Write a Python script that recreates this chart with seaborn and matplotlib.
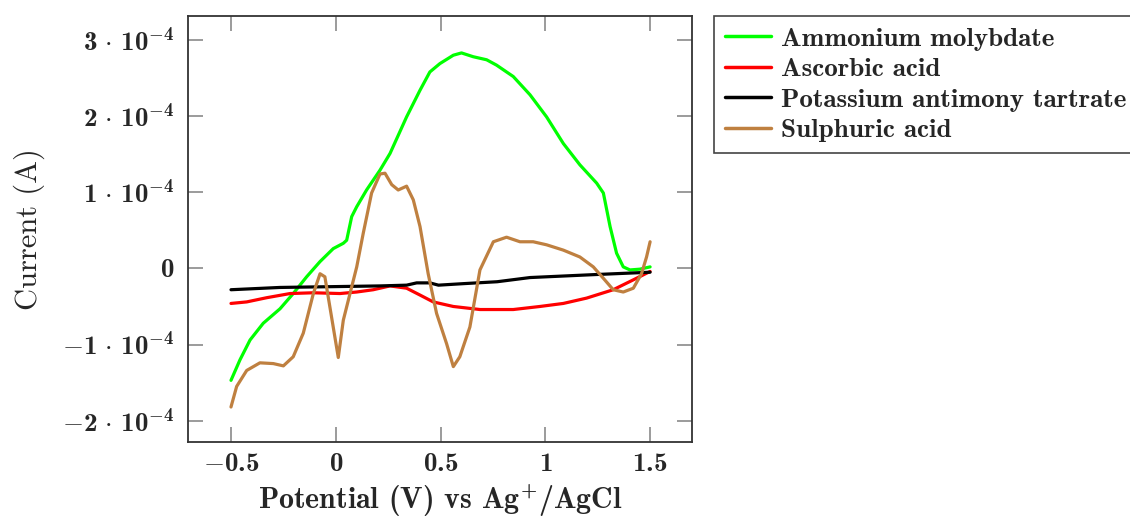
import numpy as np
import pandas as pd
import matplotlib
matplotlib.use("Agg")
import matplotlib.pyplot as plt
import seaborn as sns
from matplotlib.lines import Line2D

# ---- data (potential in V, current in 1e-4 A) ----
mo_v = [-0.5, -0.457, -0.409, -0.346, -0.266, -0.203, -0.139, -0.075, -0.012, 0.036, 0.052,
        0.076, 0.10, 0.147, 0.211, 0.259, 0.338, 0.402, 0.449, 0.497, 0.561, 0.60, 0.656,
        0.72, 0.767, 0.847, 0.927, 1.006, 1.086, 1.165, 1.245, 1.277, 1.309, 1.34, 1.372,
        1.404, 1.451, 1.5]
mo_i = [-1.47, -1.20, -0.94, -0.72, -0.53, -0.33, -0.11, 0.09, 0.26, 0.33, 0.37,
        0.68, 0.81, 1.03, 1.29, 1.51, 1.99, 2.34, 2.58, 2.69, 2.80, 2.83, 2.78,
        2.74, 2.67, 2.52, 2.28, 1.99, 1.64, 1.36, 1.12, 0.99, 0.55, 0.20, 0.02,
        -0.02, -0.01, 0.02]

asc_v = [-0.5, -0.425, -0.33, -0.218, -0.107, 0.02, 0.10, 0.179, 0.259, 0.338, 0.402,
         0.465, 0.561, 0.688, 0.847, 0.974, 1.086, 1.197, 1.324, 1.42, 1.5]
asc_i = [-0.46, -0.44, -0.385, -0.33, -0.32, -0.33, -0.31, -0.28, -0.23, -0.26, -0.35,
         -0.44, -0.50, -0.54, -0.54, -0.50, -0.46, -0.39, -0.28, -0.15, -0.04]

pat_v = [-0.5, -0.266, -0.028, 0.211, 0.338, 0.386, 0.449, 0.49, 0.61, 0.77, 0.927,
         1.086, 1.245, 1.5]
pat_i = [-0.28, -0.25, -0.24, -0.23, -0.22, -0.19, -0.19, -0.22, -0.20, -0.175, -0.12,
         -0.10, -0.08, -0.05]

sul_v = [-0.5, -0.473, -0.425, -0.362, -0.298, -0.25, -0.203, -0.155, -0.107, -0.075,
         -0.052, -0.02, 0.012, 0.036, 0.068, 0.10, 0.131, 0.171, 0.211, 0.235, 0.267,
         0.298, 0.338, 0.37, 0.402, 0.441, 0.481, 0.529, 0.561, 0.592, 0.64, 0.688,
         0.752, 0.815, 0.879, 0.942, 1.006, 1.086, 1.165, 1.229, 1.277, 1.324, 1.372,
         1.42, 1.459, 1.483, 1.5]
sul_i = [-1.82, -1.55, -1.34, -1.24, -1.25, -1.28, -1.16, -0.85, -0.33, -0.07,
         -0.11, -0.64, -1.17, -0.68, -0.33, 0.02, 0.46, 0.99, 1.24, 1.25, 1.10,
         1.03, 1.08, 0.90, 0.55, -0.07, -0.59, -0.99, -1.29, -1.16, -0.77, -0.02,
         0.35, 0.41, 0.35, 0.35, 0.31, 0.24, 0.15, 0.02, -0.13, -0.28, -0.31,
         -0.26, -0.07, 0.15, 0.35]

series_names = ["Ammonium molybdate", "Ascorbic acid", "Potassium antimony tartrate", "Sulphuric acid"]
series_colors = ["#00ff00", "#ff0000", "#000000", "#bf8040"]

x_ticks = [-0.5, 0, 0.5, 1, 1.5]
x_tick_labels = [r"$-0.5$", r"$0$", r"$0.5$", r"$1$", r"$1.5$"]
y_ticks = [-2e-4, -1e-4, 0, 1e-4, 2e-4, 3e-4]
y_tick_labels = [r"$-2\,\cdot\,10^{-4}$", r"$-1\,\cdot\,10^{-4}$", r"$0$",
                 r"$1\,\cdot\,10^{-4}$", r"$2\,\cdot\,10^{-4}$", r"$3\,\cdot\,10^{-4}$"]

frames = []
for name, v, i in zip(series_names, [mo_v, asc_v, pat_v, sul_v], [mo_i, asc_i, pat_i, sul_i]):
    frames.append(pd.DataFrame({"Potential": v, "Current": np.array(i) * 1e-4,
                                "Series": name}))
df = pd.concat(frames, ignore_index=True)

sns.set_theme(style="white")
plt.rcParams["font.family"] = ["cmb10", "DejaVu Serif"]
plt.rcParams["mathtext.fontset"] = "custom"
plt.rcParams["mathtext.rm"] = "cmb10"
plt.rcParams["mathtext.bf"] = "cmb10"
plt.rcParams["mathtext.it"] = "cmb10"
plt.rcParams["mathtext.default"] = "rm"
plt.rcParams["mathtext.fallback"] = "cm"
plt.rcParams["axes.unicode_minus"] = True

FS = 19.5
fig = plt.figure(figsize=(11.3, 5.21), dpi=100)
ax = fig.add_axes([0.1664, 0.1516, 0.4460, 0.8177])

sns.lineplot(data=df, x="Potential", y="Current", hue="Series", hue_order=series_names,
             palette=dict(zip(series_names, series_colors)), sort=False, estimator=None,
             linewidth=2.3, ax=ax, legend=False)

ax.set_xlim(-0.705, 1.7)
ax.set_ylim(-2.28e-4, 3.315e-4)
ax.set_xticks(x_ticks)
ax.set_xticklabels(x_tick_labels, fontsize=FS)
ax.set_yticks(y_ticks)
ax.set_yticklabels(y_tick_labels, fontsize=FS)
ax.tick_params(axis="both", direction="in", length=11, width=1.2, color="#8a8a8a",
               top=True, right=True, bottom=True, left=True)
ax.tick_params(axis="x", pad=8)
ax.tick_params(axis="y", pad=10)
for s in ax.spines.values():
    s.set_color("#333333")
    s.set_linewidth(1.3)

ax.set_xlabel(r"Potential (V) vs Ag$^{+}$/AgCl", fontsize=21.5, labelpad=5)
ax.set_ylabel("Current (A)", fontsize=22, family=["cmr10", "DejaVu Serif"], labelpad=12)

handles = [Line2D([0], [0], color=c, lw=2.5) for c in series_colors]
leg = ax.legend(handles, series_names, loc="upper left", bbox_to_anchor=(1.044, 1.0),
                borderaxespad=0, fontsize=FS, frameon=True, fancybox=False,
                handlelength=1.7, handletextpad=0.35, labelspacing=0.24,
                borderpad=0.4, framealpha=1)
leg.get_frame().set_edgecolor("#444444")
leg.get_frame().set_linewidth(1.2)

fig.savefig("out.png", dpi=100)
